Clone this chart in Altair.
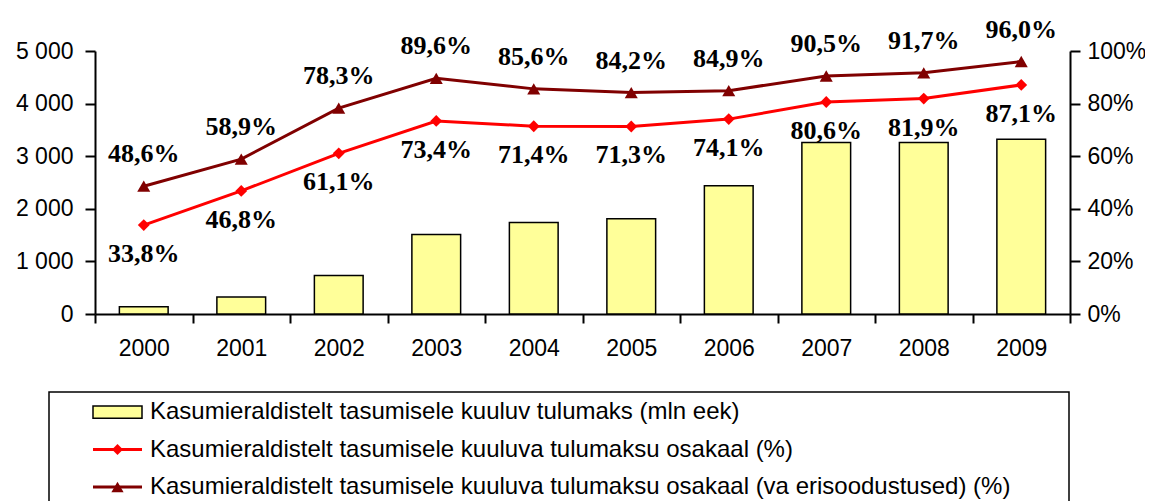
import altair as alt
import pandas as pd

years = ["2000", "2001", "2002", "2003", "2004", "2005", "2006", "2007", "2008", "2009"]
tax_mln = [140, 325, 730, 1510, 1740, 1810, 2440, 3260, 3260, 3320]
share = [33.8, 46.8, 61.1, 73.4, 71.4, 71.3, 74.1, 80.6, 81.9, 87.1]
share_excl = [48.6, 58.9, 78.3, 89.6, 85.6, 84.2, 84.9, 90.5, 91.7, 96.0]
legend_names = [
    "Kasumieraldistelt tasumisele kuuluv tulumaks (mln eek)",
    "Kasumieraldistelt tasumisele kuuluva tulumaksu osakaal (%)",
    "Kasumieraldistelt tasumisele kuuluva tulumaksu osakaal (va erisoodustused) (%)",
]
legend_kinds = ["bar", "share", "excl"]
colors = ["#FFFF99", "#FF0000", "#800000"]


def fmt(v):
    return f"{v:.1f}".replace(".", ",") + "%"


df_bar = pd.DataFrame({"year": years, "tax": tax_mln})
df_s1 = pd.DataFrame({"year": years, "pct": share, "lbl": [fmt(v) for v in share]})
df_s2 = pd.DataFrame({"year": years, "pct": share_excl, "lbl": [fmt(v) for v in share_excl]})
df_leg = pd.DataFrame({"name": legend_names, "kind": legend_kinds})

x = alt.X(
    "year:N",
    title=None,
    scale=alt.Scale(paddingInner=0, paddingOuter=0),
    axis=alt.Axis(labelAngle=0, tickBand="extent", tickSize=9, labelPadding=14),
)

bars = alt.Chart(df_bar).mark_bar(
    width=alt.RelativeBandSize(0.5), fill="#FFFF99", stroke="black", strokeWidth=1.5
).encode(
    x=x,
    y=alt.Y(
        "tax:Q",
        title=None,
        scale=alt.Scale(domain=[0, 5000], nice=False),
        axis=alt.Axis(
            orient="left",
            values=[0, 1000, 2000, 3000, 4000, 5000],
            labelExpr="replace(format(datum.value, ','), ',', ' ')",
            tickSize=10,
            labelPadding=12,
        ),
    ),
)

ypct = alt.Y(
    "pct:Q",
    title=None,
    scale=alt.Scale(domain=[0, 100], nice=False),
    axis=alt.Axis(
        orient="right",
        values=[0, 20, 40, 60, 80, 100],
        labelExpr="datum.value + '%'",
        tickSize=10,
        labelPadding=7,
    ),
)
ypct_noaxis = alt.Y("pct:Q", title=None, scale=alt.Scale(domain=[0, 100], nice=False))

line1 = alt.Chart(df_s1).mark_line(color="#FF0000", strokeWidth=3).encode(x=x, y=ypct)
pts1 = alt.Chart(df_s1).mark_point(shape="diamond", filled=True, color="#FF0000", size=140, opacity=1).encode(x=x, y=ypct_noaxis)
lbl1 = alt.Chart(df_s1).mark_text(
    font="Liberation Serif", fontWeight="bold", fontSize=26, dy=29, color="black"
).encode(x=x, y=ypct_noaxis, text="lbl:N")

line2 = alt.Chart(df_s2).mark_line(color="#800000", strokeWidth=3).encode(x=x, y=ypct_noaxis)
pts2 = alt.Chart(df_s2).mark_point(shape="triangle-up", filled=True, color="#800000", size=170, opacity=1).encode(x=x, y=ypct_noaxis)
lbl2 = alt.Chart(df_s2).mark_text(
    font="Liberation Serif", fontWeight="bold", fontSize=26, dy=-32, color="black"
).encode(x=x, y=ypct_noaxis, text="lbl:N")

lines_layer = alt.layer(line1, line2, pts1, pts2, lbl1, lbl2)

# legend
yl = alt.Y(
    "name:N",
    sort=legend_names,
    scale=alt.Scale(type="point", domain=legend_names, range=[361, 436], padding=0),
    axis=None,
)
leg_base = alt.Chart(df_leg)
box = alt.Chart(df_leg.head(1)).mark_rect(fill="white", stroke="black", strokeWidth=1.5).encode(
    x=alt.value(-46), x2=alt.value(974), y=alt.value(341), y2=alt.value(470)
)
leg_rules = leg_base.transform_filter("datum.kind != 'bar'").mark_rule(strokeWidth=3).encode(
    x=alt.value(-2), x2=alt.value(47), y=yl,
    color=alt.Color("name:N", scale=alt.Scale(domain=legend_names, range=colors), legend=None),
)
rect_path = "M-1,-0.25L1,-0.25L1,0.25L-1,0.25Z"
leg_bar = leg_base.transform_filter("datum.kind == 'bar'").mark_point(
    shape=rect_path, size=2401, filled=True, fill="#FFFF99", stroke="black", strokeWidth=1.5, opacity=1
).encode(x=alt.value(22.5), y=yl)
leg_dia = leg_base.transform_filter("datum.kind == 'share'").mark_point(
    shape="diamond", size=120, filled=True, color="#FF0000", opacity=1
).encode(x=alt.value(22.5), y=yl)
leg_tri = leg_base.transform_filter("datum.kind == 'excl'").mark_point(
    shape="triangle-up", size=150, filled=True, color="#800000", opacity=1
).encode(x=alt.value(22.5), y=yl)
leg_text = leg_base.mark_text(align="left", baseline="middle", font="Liberation Sans", fontSize=24, color="black").encode(
    x=alt.value(55), y=yl, text="name:N"
)
legend_layer = alt.layer(box, leg_rules, leg_bar, leg_dia, leg_tri, leg_text)

chart = alt.layer(bars, lines_layer, legend_layer).resolve_scale(
    y="independent", color="independent"
).properties(
    width=975,
    height=263,
    padding={"left": 87, "top": 43, "right": 75, "bottom": 187},
    autosize=alt.AutoSizeParams(type="none"),
).configure_view(stroke=None).configure_axis(
    grid=False,
    domainColor="black",
    domainWidth=2,
    tickColor="black",
    tickWidth=2,
    labelColor="black",
    labelFont="Liberation Sans",
    labelFontSize=23,
)

chart.save("out.html", embed_options={"renderer": "svg", "actions": False})
